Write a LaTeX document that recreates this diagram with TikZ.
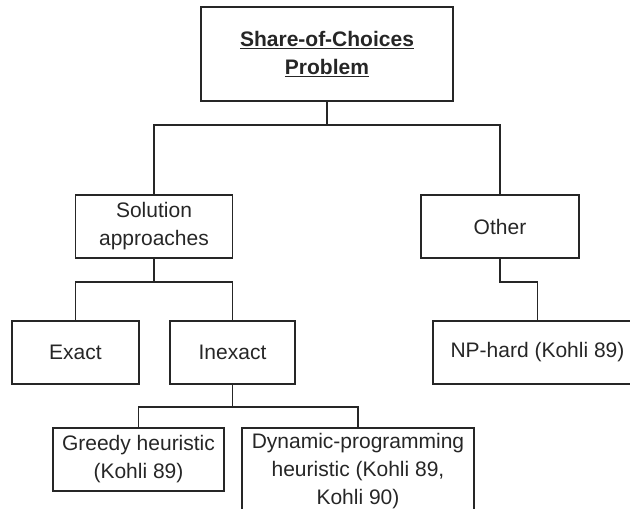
\documentclass[tikz,border=0pt]{standalone}
\usepackage{fontspec}
\setmainfont{Liberation Sans}
\usepackage{xcolor}
\definecolor{inkgray}{HTML}{262626}

\begin{document}
\begin{tikzpicture}[x=1pt,y=-1pt,
    box/.style={shape=rectangle, draw=inkgray, line width=1.3pt, align=center,
      inner sep=2pt, font=\fontsize{21}{28}\selectfont, text=inkgray},
    link/.style={draw=inkgray, line width=1.3pt}]
  \useasboundingbox (0,0) rectangle (630,509);
  \clip (0,0) rectangle (630,509);
  \node [box, minimum width=252pt, minimum height=94pt] (soc) at (327,54)
    {\underline{\textbf{Share-of-Choices}}\\\underline{\textbf{Problem}}};
  \node [box, minimum width=157pt, minimum height=63pt] (sol) at (154,226.5) {Solution\\approaches};
  \node [box, minimum width=158pt, minimum height=63pt] (other) at (500,226.5) {Other};
  \node [box, minimum width=127pt, minimum height=63pt] (exact) at (75.5,352.5) {Exact};
  \node [box, minimum width=125pt, minimum height=63pt] (inexact) at (232.5,352.5) {Inexact};
  \node [box, minimum width=209pt, minimum height=63pt] (np) at (537.5,352.5) {NP-hard (Kohli 89)};
  \node [box, minimum width=171pt, minimum height=63pt] (greedy) at (138.5,459.5) {Greedy heuristic\\(Kohli 89)};
  \node [box, minimum width=232pt, minimum height=87pt] (dyn) at (358,471.5)
    {Dynamic-programming\\heuristic (Kohli 89,\\Kohli 90)};
  % junctions of the elbow connectors
  \coordinate (jtop) at (327,125);
  \coordinate (jsol) at (154,282);
  \coordinate (jother) at (500,282);
  \coordinate (jinex) at (232.5,407);
  \draw[link] (soc) -- (jtop) -| (sol);
  \draw[link] (jtop) -| (other);
  \draw[link] (sol) -- (jsol) -| (exact);
  \draw[link] (jsol) -| (inexact);
  \draw[link] (other) -- (jother) -| (np);
  \draw[link] (inexact) -- (jinex) -| (greedy);
  \draw[link] (jinex) -| (dyn);
\end{tikzpicture}
\end{document}
